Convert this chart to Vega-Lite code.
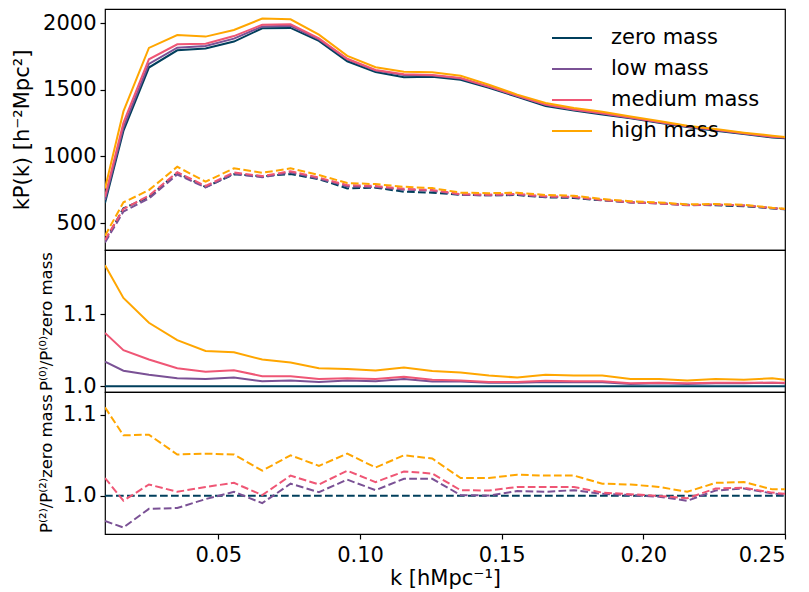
{
 "$schema": "https://vega.github.io/schema/vega-lite/v6.json",
 "padding": {"left": 10, "top": 8, "right": 22, "bottom": 2},
 "background": "white",
 "config": {
  "font": "DejaVu Sans",
  "view": {"stroke": "black", "strokeWidth": 1.2},
  "axis": {"labelFont": "DejaVu Sans", "titleFont": "DejaVu Sans", "labelFontSize": 21, "titleFontSize": 21, "labelColor": "black", "titleColor": "black", "tickColor": "black", "tickWidth": 1.2, "domain": false, "grid": false, "tickSize": 5, "labelPadding": 4, "titleFontWeight": "normal"},
  "legend": {"labelFont": "DejaVu Sans", "labelFontSize": 21, "labelColor": "black"}
 },
 "data": {"values": [
  {"k":0.01,"m":"zero mass","P0":650,"P2":365,"R0":1,"R2":1},
  {"k":0.0165,"m":"zero mass","P0":1191,"P2":610,"R0":1,"R2":1},
  {"k":0.0255,"m":"zero mass","P0":1666,"P2":695,"R0":1,"R2":1},
  {"k":0.0355,"m":"zero mass","P0":1795,"P2":877,"R0":1,"R2":1},
  {"k":0.0455,"m":"zero mass","P0":1809,"P2":770,"R0":1,"R2":1},
  {"k":0.0555,"m":"zero mass","P0":1861,"P2":866,"R0":1,"R2":1},
  {"k":0.0655,"m":"zero mass","P0":1960,"P2":851,"R0":1,"R2":1},
  {"k":0.0755,"m":"zero mass","P0":1963,"P2":867,"R0":1,"R2":1},
  {"k":0.0855,"m":"zero mass","P0":1866,"P2":829,"R0":1,"R2":1},
  {"k":0.0955,"m":"zero mass","P0":1713,"P2":760,"R0":1,"R2":1},
  {"k":0.1055,"m":"zero mass","P0":1632,"P2":765,"R0":1,"R2":1},
  {"k":0.1155,"m":"zero mass","P0":1594,"P2":735,"R0":1,"R2":1},
  {"k":0.1255,"m":"zero mass","P0":1597,"P2":728,"R0":1,"R2":1},
  {"k":0.1355,"m":"zero mass","P0":1574,"P2":712,"R0":1,"R2":1},
  {"k":0.1455,"m":"zero mass","P0":1514,"P2":708,"R0":1,"R2":1},
  {"k":0.1555,"m":"zero mass","P0":1446,"P2":710,"R0":1,"R2":1},
  {"k":0.1655,"m":"zero mass","P0":1378,"P2":693,"R0":1,"R2":1},
  {"k":0.1755,"m":"zero mass","P0":1343,"P2":688,"R0":1,"R2":1},
  {"k":0.1855,"m":"zero mass","P0":1314,"P2":670,"R0":1,"R2":1},
  {"k":0.1955,"m":"zero mass","P0":1286,"P2":655,"R0":1,"R2":1},
  {"k":0.2055,"m":"zero mass","P0":1252,"P2":648,"R0":1,"R2":1},
  {"k":0.2155,"m":"zero mass","P0":1220,"P2":637,"R0":1,"R2":1},
  {"k":0.2255,"m":"zero mass","P0":1193,"P2":633,"R0":1,"R2":1},
  {"k":0.2355,"m":"zero mass","P0":1167,"P2":626,"R0":1,"R2":1},
  {"k":0.2455,"m":"zero mass","P0":1142,"P2":610,"R0":1,"R2":1},
  {"k":0.25,"m":"zero mass","P0":1136,"P2":603,"R0":1,"R2":1},

  {"k":0.01,"m":"low mass","P0":672,"P2":354,"R0":1.034,"R2":0.969},
  {"k":0.0165,"m":"low mass","P0":1217,"P2":586,"R0":1.0216,"R2":0.961},
  {"k":0.0255,"m":"low mass","P0":1693,"P2":684,"R0":1.016,"R2":0.984},
  {"k":0.0355,"m":"low mass","P0":1815,"P2":864,"R0":1.011,"R2":0.985},
  {"k":0.0455,"m":"low mass","P0":1827,"P2":767,"R0":1.010,"R2":0.996},
  {"k":0.0555,"m":"low mass","P0":1883,"P2":870,"R0":1.012,"R2":1.005},
  {"k":0.0655,"m":"low mass","P0":1974,"P2":843,"R0":1.007,"R2":0.991},
  {"k":0.0755,"m":"low mass","P0":1979,"P2":880,"R0":1.008,"R2":1.015},
  {"k":0.0855,"m":"low mass","P0":1877,"P2":833,"R0":1.006,"R2":1.0045},
  {"k":0.0955,"m":"low mass","P0":1727,"P2":775,"R0":1.008,"R2":1.020},
  {"k":0.1055,"m":"low mass","P0":1643,"P2":770,"R0":1.007,"R2":1.007},
  {"k":0.1155,"m":"low mass","P0":1610,"P2":750,"R0":1.010,"R2":1.021},
  {"k":0.1255,"m":"low mass","P0":1607,"P2":743,"R0":1.0065,"R2":1.021},
  {"k":0.1355,"m":"low mass","P0":1584,"P2":713,"R0":1.0065,"R2":1.001},
  {"k":0.1455,"m":"low mass","P0":1522,"P2":708,"R0":1.005,"R2":1.0004},
  {"k":0.1555,"m":"low mass","P0":1453,"P2":714,"R0":1.005,"R2":1.006},
  {"k":0.1655,"m":"low mass","P0":1386,"P2":696,"R0":1.006,"R2":1.005},
  {"k":0.1755,"m":"low mass","P0":1350,"P2":693,"R0":1.0055,"R2":1.007},
  {"k":0.1855,"m":"low mass","P0":1321,"P2":672,"R0":1.0055,"R2":1.0025},
  {"k":0.1955,"m":"low mass","P0":1290,"P2":656,"R0":1.003,"R2":1.001},
  {"k":0.2055,"m":"low mass","P0":1257,"P2":647,"R0":1.004,"R2":0.999},
  {"k":0.2155,"m":"low mass","P0":1224,"P2":633,"R0":1.003,"R2":0.994},
  {"k":0.2255,"m":"low mass","P0":1198,"P2":637,"R0":1.004,"R2":1.0066},
  {"k":0.2355,"m":"low mass","P0":1172,"P2":632,"R0":1.004,"R2":1.009},
  {"k":0.2455,"m":"low mass","P0":1148,"P2":612,"R0":1.005,"R2":1.003},
  {"k":0.25,"m":"low mass","P0":1141,"P2":604,"R0":1.004,"R2":1.0016},

  {"k":0.01,"m":"medium mass","P0":698,"P2":373,"R0":1.074,"R2":1.022},
  {"k":0.0165,"m":"medium mass","P0":1251,"P2":606,"R0":1.050,"R2":0.994},
  {"k":0.0255,"m":"medium mass","P0":1728,"P2":705,"R0":1.037,"R2":1.014},
  {"k":0.0355,"m":"medium mass","P0":1840,"P2":881,"R0":1.025,"R2":1.005},
  {"k":0.0455,"m":"medium mass","P0":1845,"P2":778,"R0":1.020,"R2":1.011},
  {"k":0.0555,"m":"medium mass","P0":1902,"P2":880,"R0":1.022,"R2":1.016},
  {"k":0.0655,"m":"medium mass","P0":1987,"P2":852,"R0":1.014,"R2":1.001},
  {"k":0.0755,"m":"medium mass","P0":1990,"P2":889,"R0":1.014,"R2":1.025},
  {"k":0.0855,"m":"medium mass","P0":1885,"P2":841,"R0":1.010,"R2":1.014},
  {"k":0.0955,"m":"medium mass","P0":1732,"P2":784,"R0":1.011,"R2":1.031},
  {"k":0.1055,"m":"medium mass","P0":1648,"P2":778,"R0":1.010,"R2":1.017},
  {"k":0.1155,"m":"medium mass","P0":1615,"P2":757,"R0":1.013,"R2":1.030},
  {"k":0.1255,"m":"medium mass","P0":1611,"P2":748,"R0":1.009,"R2":1.0275},
  {"k":0.1355,"m":"medium mass","P0":1587,"P2":717,"R0":1.008,"R2":1.007},
  {"k":0.1455,"m":"medium mass","P0":1523,"P2":713,"R0":1.006,"R2":1.0066},
  {"k":0.1555,"m":"medium mass","P0":1455,"P2":718,"R0":1.006,"R2":1.011},
  {"k":0.1655,"m":"medium mass","P0":1388,"P2":701,"R0":1.0075,"R2":1.011},
  {"k":0.1755,"m":"medium mass","P0":1352,"P2":696,"R0":1.007,"R2":1.011},
  {"k":0.1855,"m":"medium mass","P0":1323,"P2":673,"R0":1.007,"R2":1.004},
  {"k":0.1955,"m":"medium mass","P0":1291,"P2":656,"R0":1.004,"R2":1.002},
  {"k":0.2055,"m":"medium mass","P0":1258,"P2":648,"R0":1.005,"R2":1.0},
  {"k":0.2155,"m":"medium mass","P0":1225,"P2":635,"R0":1.004,"R2":0.997},
  {"k":0.2255,"m":"medium mass","P0":1199,"P2":639,"R0":1.005,"R2":1.009},
  {"k":0.2355,"m":"medium mass","P0":1173,"P2":632,"R0":1.005,"R2":1.010},
  {"k":0.2455,"m":"medium mass","P0":1148,"P2":612,"R0":1.005,"R2":1.004},
  {"k":0.25,"m":"medium mass","P0":1142,"P2":605,"R0":1.005,"R2":1.0025},

  {"k":0.01,"m":"high mass","P0":759,"P2":405,"R0":1.168,"R2":1.109},
  {"k":0.0165,"m":"high mass","P0":1337,"P2":655,"R0":1.1225,"R2":1.0746},
  {"k":0.0255,"m":"high mass","P0":1813,"P2":747,"R0":1.088,"R2":1.0754},
  {"k":0.0355,"m":"high mass","P0":1910,"P2":922,"R0":1.064,"R2":1.051},
  {"k":0.0455,"m":"high mass","P0":1898,"P2":810,"R0":1.049,"R2":1.052},
  {"k":0.0555,"m":"high mass","P0":1948,"P2":910,"R0":1.047,"R2":1.051},
  {"k":0.0655,"m":"high mass","P0":2033,"P2":877,"R0":1.037,"R2":1.031},
  {"k":0.0755,"m":"high mass","P0":2028,"P2":910,"R0":1.033,"R2":1.050},
  {"k":0.0855,"m":"high mass","P0":1913,"P2":860,"R0":1.025,"R2":1.037},
  {"k":0.0955,"m":"high mass","P0":1754,"P2":800,"R0":1.024,"R2":1.052},
  {"k":0.1055,"m":"high mass","P0":1668,"P2":792,"R0":1.022,"R2":1.035},
  {"k":0.1155,"m":"high mass","P0":1635,"P2":772,"R0":1.026,"R2":1.050},
  {"k":0.1255,"m":"high mass","P0":1631,"P2":762,"R0":1.021,"R2":1.046},
  {"k":0.1355,"m":"high mass","P0":1604,"P2":728,"R0":1.019,"R2":1.022},
  {"k":0.1455,"m":"high mass","P0":1537,"P2":724,"R0":1.015,"R2":1.022},
  {"k":0.1555,"m":"high mass","P0":1463,"P2":728,"R0":1.012,"R2":1.026},
  {"k":0.1655,"m":"high mass","P0":1400,"P2":710,"R0":1.016,"R2":1.025},
  {"k":0.1755,"m":"high mass","P0":1363,"P2":705,"R0":1.015,"R2":1.025},
  {"k":0.1855,"m":"high mass","P0":1334,"P2":680,"R0":1.015,"R2":1.015},
  {"k":0.1955,"m":"high mass","P0":1299,"P2":664,"R0":1.010,"R2":1.014},
  {"k":0.2055,"m":"high mass","P0":1265,"P2":655,"R0":1.010,"R2":1.011},
  {"k":0.2155,"m":"high mass","P0":1230,"P2":640,"R0":1.008,"R2":1.005},
  {"k":0.2255,"m":"high mass","P0":1205,"P2":643,"R0":1.010,"R2":1.016},
  {"k":0.2355,"m":"high mass","P0":1178,"P2":637,"R0":1.009,"R2":1.017},
  {"k":0.2455,"m":"high mass","P0":1155,"P2":615,"R0":1.011,"R2":1.008},
  {"k":0.25,"m":"high mass","P0":1146,"P2":608,"R0":1.009,"R2":1.008}
 ]},
 "spacing": 0,
 "bounds": "flush",
 "vconcat": [
  {
   "width": 680, "height": 241,
   "encoding": {
    "x": {"field": "k", "type": "quantitative", "scale": {"domain": [0.01, 0.25], "nice": false, "zero": false}, "axis": null},
    "color": {"field": "m", "type": "nominal", "sort": null,
      "scale": {"domain": ["zero mass", "low mass", "medium mass", "high mass"], "range": ["#003f5c", "#7a5195", "#ef5675", "#ffa600"]}}
   },
   "layer": [
    {"mark": {"type": "line", "strokeWidth": 2, "clip": true},
     "encoding": {
      "y": {"field": "P0", "type": "quantitative", "scale": {"domain": [298, 2105], "nice": false, "zero": false},
            "axis": {"values": [500, 1000, 1500, 2000], "format": "d", "title": "kP(k) [h⁻²Mpc²]", "titlePadding": 10}},
      "color": {"field": "m", "type": "nominal", "sort": null,
        "legend": {"title": null, "orient": "none", "legendX": 446, "legendY": 8, "symbolType": "stroke", "symbolSize": 1600, "symbolStrokeWidth": 2, "rowPadding": -8, "labelOffset": 18, "labelFontSize": 21}}
     }},
    {"mark": {"type": "line", "strokeWidth": 2, "strokeDash": [7.7, 3.3], "clip": true},
     "encoding": {
      "y": {"field": "P2", "type": "quantitative"}
     }}
   ]
  },
  {
   "width": 680, "height": 142,
   "mark": {"type": "line", "strokeWidth": 2, "clip": true},
   "encoding": {
    "x": {"field": "k", "type": "quantitative", "scale": {"domain": [0.01, 0.25], "nice": false, "zero": false}, "axis": null},
    "y": {"field": "R0", "type": "quantitative", "scale": {"domain": [0.992, 1.189], "nice": false, "zero": false},
          "axis": {"values": [1.0, 1.1], "format": ".1f", "title": "P⁽⁰⁾/P⁽⁰⁾zero mass", "titleFontSize": 16.5, "titlePadding": 8}},
    "color": {"field": "m", "type": "nominal", "sort": null, "legend": null},
    "strokeWidth": {"condition": {"test": "datum.m === 'zero mass'", "value": 2.6}, "value": 2}
   }
  },
  {
   "width": 680, "height": 142,
   "mark": {"type": "line", "strokeWidth": 2, "strokeDash": [7.7, 3.3], "clip": true},
   "encoding": {
    "x": {"field": "k", "type": "quantitative", "scale": {"domain": [0.01, 0.25], "nice": false, "zero": false},
          "axis": {"values": [0.05, 0.1, 0.15, 0.2, 0.25], "format": ".2f", "title": "k [hMpc⁻¹]", "labelPadding": 5, "titlePadding": 2}},
    "y": {"field": "R2", "type": "quantitative", "scale": {"domain": [0.953, 1.128], "nice": false, "zero": false},
          "axis": {"values": [1.0, 1.1], "format": ".1f", "title": "P⁽²⁾/P⁽²⁾zero mass", "titleFontSize": 16.5, "titlePadding": 8}},
    "color": {"field": "m", "type": "nominal", "sort": null, "legend": null}
   }
  }
 ]
}
